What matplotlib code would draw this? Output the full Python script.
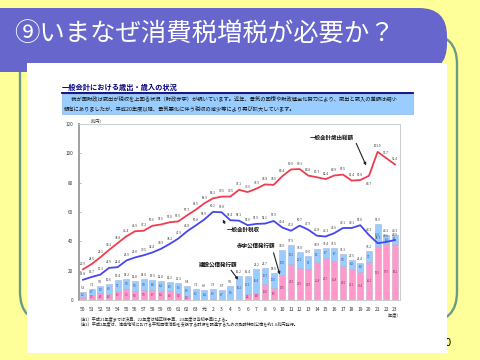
import matplotlib
matplotlib.use("Agg")
import matplotlib.pyplot as plt
from matplotlib.patches import FancyBboxPatch, Rectangle

plt.rcParams['font.family'] = ['Noto Sans CJK JP', 'DejaVu Sans']

# ---- data (兆円) ----
years = ['50', '51', '52', '53', '54', '55', '56', '57', '58', '59', '60', '61', '62', '63',
         '元', '2', '3', '4', '5', '6', '7', '8', '9', '10', '11', '12', '13', '14', '15',
         '16', '17', '18', '19', '20', '21', '22', '23']
expenditure = [20.9, 24.5, 29.1, 34.1, 38.8, 43.4, 46.9, 47.2, 50.6, 51.5, 53.0, 53.6, 57.7, 61.5,
               65.9, 69.3, 70.5, 70.5, 75.1, 73.6, 75.9, 78.8, 78.5, 84.4,
               89.0, 89.3, 84.8, 83.7, 82.4, 84.9, 85.5, 81.4, 81.8, 84.7,
               101.0, 96.7, 92.4]
tax_revenue = [13.8, 15.7, 17.3, 21.9, 22.4, 26.9, 29.0, 30.5, 32.4, 34.9, 38.2, 41.9, 46.8, 50.8,
               54.9, 60.1, 59.8, 54.4, 54.1, 51.0, 51.9, 52.1, 53.9, 49.4,
               47.2, 50.7, 47.9, 43.8, 43.3, 45.6, 49.1, 49.1, 51.0, 44.3,
               38.7, 39.6, 40.9]
construction_bonds = [3.2, 3.7, 5.0, 6.3, 7.1, 7.0, 7.0, 7.0, 6.8, 6.4, 6.3, 6.3, 6.9, 6.2,
                      6.4, 6.3, 6.7, 9.5, 16.2, 12.3, 16.4, 10.7, 10.0, 17.0,
                      13.2, 11.1, 9.1, 9.1, 6.7, 8.7, 7.8, 6.4, 6.0, 7.1,
                      15.0, 6.4, 6.1]
deficit_bonds = [2.1, 3.5, 4.5, 4.3, 6.3, 7.2, 5.8, 7.0, 6.7, 6.4, 6.0, 5.0, 2.5, 1.0,
                 0.2, 1.0, 0.0, 0.0, 0.0, 4.1, 4.8, 11.0, 8.5, 17.0,
                 24.3, 21.9, 20.9, 25.8, 28.7, 26.8, 23.5, 21.1, 19.4, 26.1,
                 36.9, 37.9, 38.2]

fig = plt.figure(figsize=(4.8, 3.6), dpi=100, facecolor='#FFFF99')

# ---- slide background layer (pixel coords) ----
bg = fig.add_axes([0, 0, 1, 1])
bg.set_xlim(0, 480)
bg.set_ylim(360, 0)
bg.axis('off')

bg.add_patch(FancyBboxPatch((20, 34), 437, 288, boxstyle="round,pad=0,rounding_size=30",
                            fc='none', ec='#6B9A8A', lw=1.7, zorder=1))
bg.text(452, 343, '10', ha='right', va='center', fontsize=7, color='black', zorder=1.5,
        family=['DejaVu Sans'])
bg.add_patch(FancyBboxPatch((-40, 8), 487, 64, boxstyle="round,pad=0,rounding_size=28",
                            fc='#6666CC', ec='none', zorder=2))
bg.add_patch(Rectangle((27, 63), 420, 290, fc='white', ec='none', zorder=3))
bg.text(14, 35, '⑨いまなぜ消費税増税が必要か？', ha='left', va='center', fontsize=18.3,
        color='white', zorder=5)

# chart header
bg.text(62, 87, '一般会計における歳出・歳入の状況', ha='left', va='center', fontsize=5.2,
        fontweight='bold', color='#000080', zorder=4)
bg.plot([62, 413], [93, 93], color='#000080', lw=1.3, zorder=4)
bg.add_patch(Rectangle((62, 94), 351, 20, fc='#99CCFF', ec='#7AA8DD', lw=0.4, zorder=4))
bg.text(66, 99.5, '　我が国財政は歳出が税収を上回る状況（財政赤字）が続いています。近年、景気の回復や財政健全化努力により、歳出と歳入の差額は縮小',
        ha='left', va='center', fontsize=3.8, color='#111111', zorder=5)
bg.text(64, 108, '傾向にありましたが、平成20年度以降、景気悪化に伴う税収の減少等により再び拡大しています。',
        ha='left', va='center', fontsize=3.8, color='#111111', zorder=5)

# notes
bg.text(77, 319, '（注1）平成21年度までは決算、22年度は補正後予算、23年度は当初予算による。',
        ha='left', va='center', fontsize=3.0, color='#222222', zorder=5)
bg.text(77, 325, '（注2）平成2年度は、湾岸地域における平和回復活動を支援する財源を調達するための臨時特別公債を約1.0兆円発行。',
        ha='left', va='center', fontsize=3.0, color='#222222', zorder=5)
bg.text(392, 315, '（年度）', ha='center', va='center', fontsize=3.0, color='#222222', zorder=5)

# ---- chart ----
ax = fig.add_axes([79 / 480, 60 / 360, 321 / 480, 176 / 360])
ax.set_facecolor('none')
x = list(range(len(years)))
ax.set_xlim(-0.46, 36.58)
ax.set_ylim(0, 120)

ax.bar(x, deficit_bonds, width=0.72, color='#FF99CC', edgecolor='#C9A9CF', lw=0.4, zorder=2)
ax.bar(x, construction_bonds, width=0.72, bottom=deficit_bonds, color='#99CCFF',
       edgecolor='#A9B5D5', lw=0.4, zorder=2)

ax.plot(x, expenditure, color='#F03C50', lw=1.3, zorder=4)
ax.plot(x, tax_revenue, color='#4646F0', lw=1.3, zorder=4)

lab = dict(ha='center', fontsize=2.2, color='#333333', textcoords='offset points', zorder=5)
for i, v in enumerate(expenditure):
    if years[i] == '20':
        ax.annotate(f'{v:.1f}', (i, v), xytext=(0, -4.5), va='top', **lab)
    else:
        ax.annotate(f'{v:.1f}', (i, v), xytext=(0, 2.5), va='bottom', **lab)
for i, v in enumerate(tax_revenue):
    ax.annotate(f'{v:.1f}', (i, v), xytext=(0, 2.5), va='bottom', **lab)
for i, (c, d) in enumerate(zip(construction_bonds, deficit_bonds)):
    tot = c + d
    ax.annotate(f'{tot:.1f}', (i, tot), xytext=(0, 1.5), va='bottom', **lab)
    if c >= 2.5:
        ax.text(i, d + c / 2, f'{c:.1f}', ha='center', va='center', fontsize=1.8,
                color='#1F3F7F', zorder=3)
    if d >= 2.5:
        ax.text(i, d / 2, f'{d:.1f}', ha='center', va='center', fontsize=1.8,
                color='#7F1F4F', zorder=3)

# annotations
arr = dict(arrowstyle='-|>', color='#222222', lw=0.8, mutation_scale=3.5)
ax.text(28.7, 110.5, '一般会計歳出総額', ha='center', va='center', fontsize=4,
        fontweight='bold', color='#111111')
ax.annotate('', xy=(32.8, 90), xytext=(31.4, 108.5), arrowprops=arr)
ax.text(16.6, 47.7, '一般会計税収', ha='left', va='center', fontsize=4,
        fontweight='bold', color='#111111', zorder=6)
ax.annotate('', xy=(16.0, 56.6), xytext=(16.5, 50.5), arrowprops=arr)
ax.text(20.0, 36.8, '赤字公債発行額', ha='center', va='center', fontsize=4,
        fontweight='bold', color='#111111', zorder=6)
ax.annotate('', xy=(22.8, 15.5), xytext=(21.9, 34.0), arrowprops=arr)
ax.text(15.6, 24.0, '建設公債発行額', ha='center', va='center', fontsize=4,
        fontweight='bold', color='#111111', zorder=6)
ax.annotate('', xy=(18.1, 12.3), xytext=(16.9, 21.8), arrowprops=arr)

# axes styling
ax.set_xticks(x)
ax.set_xticklabels(years, fontsize=3.5, color='#333333')
ax.set_yticks([0, 20, 40, 60, 80, 100, 120])
ax.set_yticklabels(['0', '20', '40', '60', '80', '100', '120'], fontsize=3.3, color='#333333')
ax.tick_params(axis='x', length=0, pad=5)
ax.tick_params(axis='y', direction='in', length=1.5, width=0.5, color='#999999', pad=4)
ax.spines['left'].set_color('#A0A0A0')
ax.spines['left'].set_linewidth(1.4)
for s in ['top', 'right', 'bottom']:
    ax.spines[s].set_color('#CCCCCC')
    ax.spines[s].set_linewidth(0.7)
ax.text(0.5, 121.5, '（兆円）', ha='left', va='center', fontsize=3.0, color='#333333')

fig.savefig('out.png', dpi=100, facecolor=fig.get_facecolor())
